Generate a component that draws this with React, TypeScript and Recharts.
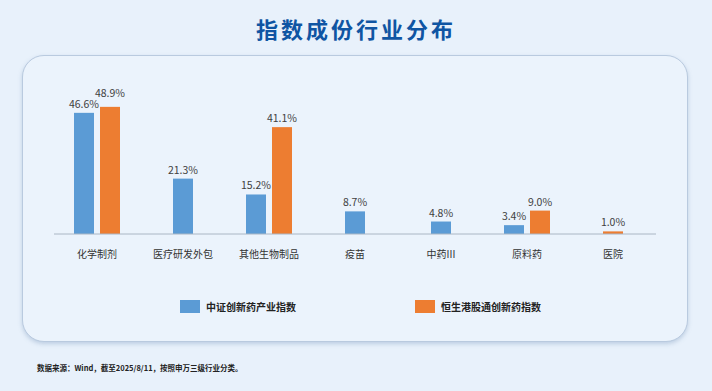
import React from "react";
import { Bar, BarChart, XAxis, YAxis } from "recharts";

const categories = ["化学制剂", "医疗研发外包", "其他生物制品", "疫苗", "中药III", "原料药", "医院"];
const csiValues: (number | null)[] = [46.6, 21.3, 15.2, 8.7, 4.8, 3.4, null];
const hsValues: (number | null)[] = [48.9, null, 41.1, null, null, 9.0, 1.0];
const seriesNames = ["中证创新药产业指数", "恒生港股通创新药指数"];

const BLUE = "#5b9bd5";
const ORANGE = "#ed7d31";
const FONT = '"Noto Sans CJK SC", "Noto Sans", sans-serif';
const BAR_GAP = 6;

const data = categories.map((name, i) => ({ name, csi: csiValues[i], hs: hsValues[i] }));

// draws one bar and its value label; a bar with no partner is moved to the middle of its band
function makeShape(key: "csi" | "hs", other: "csi" | "hs", color: string, dir: number) {
  return (props: any) => {
    const { x, y, width, height, payload } = props;
    const v = payload?.[key];
    if (v == null) return <g />;
    const o = payload[other];
    const shift = o == null ? (dir * (width + BAR_GAP)) / 2 : 0;
    const bx = x + shift;
    // lift the taller label when two neighbouring labels would collide
    const lift = o != null && v > o && v - o < 5 ? 5 : 0;
    return (
      <g>
        <rect x={bx} y={y} width={width} height={height} fill={color} />
        <text
          x={bx + width / 2}
          y={y - 5 - lift}
          textAnchor="middle"
          fontSize={10.5}
          fill="#404040"
          fontFamily={FONT}
        >
          {`${v.toFixed(1)}%`}
        </text>
      </g>
    );
  };
}

export default function App() {
  return (
    <div
      style={{
        position: "fixed",
        left: 0,
        top: 0,
        width: 712,
        height: 391,
        background: "#e8f1fb",
        fontFamily: FONT,
        overflow: "hidden",
      }}
    >
      <div
        style={{
          position: "absolute",
          top: 14,
          width: 712,
          textAlign: "center",
          fontSize: 22,
          fontWeight: 700,
          letterSpacing: 3,
          color: "#0f55a3",
          lineHeight: "28px",
        }}
      >
        指数成份行业分布
      </div>
      <div
        style={{
          position: "absolute",
          left: 22,
          top: 55,
          width: 664,
          height: 285,
          border: "1.5px solid #b9cadf",
          borderRadius: 22,
          background: "#ebf3fc",
          boxShadow: "0 2px 4px rgba(110,140,180,0.35)",
        }}
      />
      <div style={{ position: "absolute", left: 0, top: 0 }}>
        <BarChart
          width={712}
          height={391}
          data={data}
          margin={{ top: 91, right: 56, left: 54, bottom: 127 }}
          barGap={BAR_GAP}
          barSize={20}
        >
          <XAxis
            dataKey="name"
            axisLine={{ stroke: "#aab6c4" }}
            tickLine={false}
            tickSize={0}
            tickMargin={17}
            interval={0}
            height={30}
            tick={{ fontSize: 10, fill: "#333", fontFamily: FONT }}
          />
          <YAxis hide domain={[0, 55]} />
          <Bar dataKey="csi" fill={BLUE} isAnimationActive={false} shape={makeShape("csi", "hs", BLUE, 1)} />
          <Bar dataKey="hs" fill={ORANGE} isAnimationActive={false} shape={makeShape("hs", "csi", ORANGE, -1)} />
        </BarChart>
      </div>
      {[BLUE, ORANGE].map((c, i) => (
        <div
          key={i}
          style={{
            position: "absolute",
            left: i === 0 ? 180 : 415,
            top: 299,
            display: "flex",
            alignItems: "center",
            fontSize: 10,
            fontWeight: 700,
            color: "#222",
          }}
        >
          <span style={{ display: "inline-block", width: 20, height: 13, background: c, marginRight: 6 }} />
          {seriesNames[i]}
        </div>
      ))}
      <div
        style={{
          position: "absolute",
          left: 37,
          top: 362,
          fontSize: 7.5,
          fontWeight: 700,
          color: "#222",
          lineHeight: "12px",
        }}
      >
        数据来源：Wind，截至2025/8/11，按照申万三级行业分类。
      </div>
    </div>
  );
}
